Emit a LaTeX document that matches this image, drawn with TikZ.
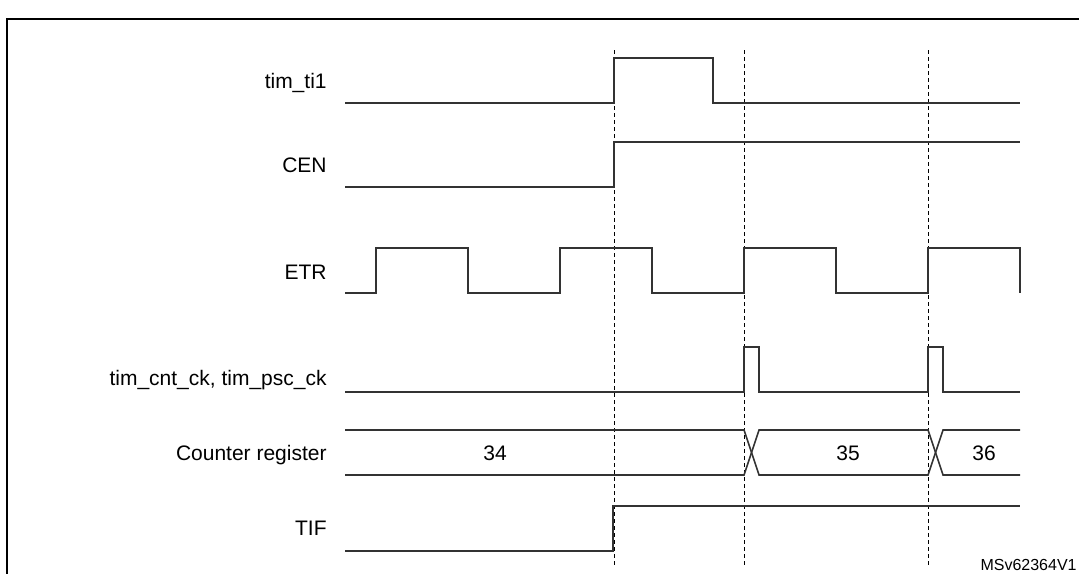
\documentclass[tikz,border=0pt]{standalone}
\usepackage{fontspec}
\setmainfont{Liberation Sans}
\begin{document}
\begin{tikzpicture}[x=0.5pt,y=-0.5pt,
    senal/.style={line width=0.8pt,black!80},
    guia/.style={line width=0.5pt,dash pattern=on 2pt off 1.5pt},
    etiqueta/.style={anchor=base east,inner sep=0pt,font=\fontsize{10.5}{12}\selectfont},
    valor/.style={inner sep=0pt,font=\fontsize{10.5}{12}\selectfont}]
        \useasboundingbox (0,0) rectangle (1079,573);
        % Marco
        \draw[line width=1pt] (7,600) -- (7,19) -- (1100,19);
        % Líneas guía
        \foreach \x in {614,744,928}
            \draw[guia] (\x,50) -- (\x,567);
        % Nombres de las señales
        \node[etiqueta] (nti) at (327,88) {tim\_ti1};
        \node[etiqueta] (ncen) at (327,172) {CEN};
        \node[etiqueta] (netr) at (327,279) {ETR};
        \node[etiqueta] (nck) at (327,385) {tim\_cnt\_ck, tim\_psc\_ck};
        \node[etiqueta] (ncnt) at (327,460) {Counter register};
        \node[etiqueta] (ntif) at (327,535) {TIF};
        % tim_ti1
        \draw[senal] (345,103) -- (614,103) -- (614,58) -- (713,58) -- (713,103) -- (1020,103);
        % CEN
        \draw[senal] (345,187) -- (614,187) -- (614,142) -- (1020,142);
        % ETR
        \draw[senal] (345,293) \foreach \x in {376,560,744,928} {
            -- (\x,293) -- (\x,248) -- (\x+92,248) -- (\x+92,293)};
        % Reloj del contador
        \draw[senal] (345,392) \foreach \x in {744,928} {
            -- (\x,392) -- (\x,347) -- (\x+15,347) -- (\x+15,392)} -- (1020,392);
        % Registro del contador
        \draw[senal] (345,430) -- (744,430) -- (759,475) -- (928,475) -- (943,430) -- (1020,430);
        \draw[senal] (345,475) -- (744,475) -- (759,430) -- (928,430) -- (943,475) -- (1020,475);
        \node[valor] (v34) at (495,453) {34};
        \node[valor] (v35) at (848,453) {35};
        \node[valor] (v36) at (984,453) {36};
        % TIF
        \draw[senal] (345,551) -- (613,551) -- (613,506) -- (1020,506);
        % Referencia
        \node[anchor=base east,inner sep=0pt,font=\fontsize{8}{10}\selectfont] (ref) at (1077,570) {MSv62364V1};
    \end{tikzpicture}
\end{document}
